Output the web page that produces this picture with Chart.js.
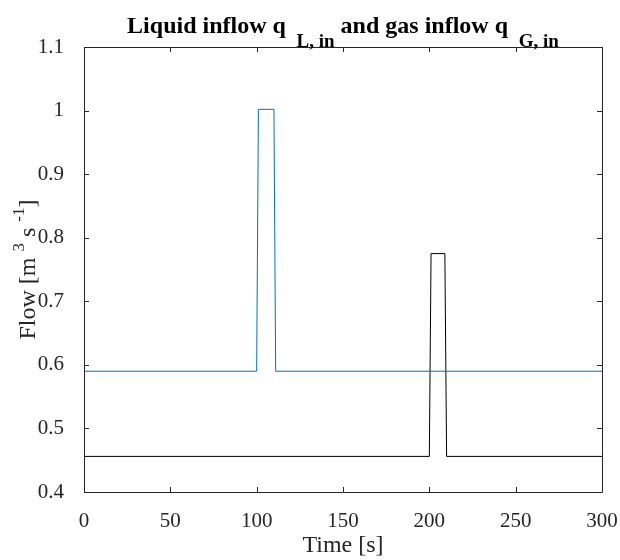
<!DOCTYPE html>
<html lang="en">
<head>
    <meta charset="UTF-8">
    <title>Liquid and gas inflow</title>
    <script src="https://cdn.jsdelivr.net/npm/chart.js"></script>
    <style>
        body { margin: 0; background: #fff; }
        canvas { display: block; }
    </style>
</head>
<body>
    <canvas id="myChart" width="620" height="560"></canvas>
    <script>
        // step profiles (breakpoints only)
        const liquidTime = [0, 100, 101, 110, 111, 300];
        const liquidFlow = [0.59, 0.59, 1.002, 1.002, 0.59, 0.59];
        const gasTime = [0, 200, 201, 209, 210, 300];
        const gasFlow = [0.456, 0.456, 0.775, 0.775, 0.456, 0.456];

        const xTicks = [0, 50, 100, 150, 200, 250, 300];
        const yTicks = [0.4, 0.5, 0.6, 0.7, 0.8, 0.9, 1, 1.1];

        const FONT = '"Liberation Serif", "Times New Roman", serif';
        const AXIS = '#262626';

        function toPoints(xs, ys) {
            return xs.map((x, i) => ({ x: x, y: ys[i] }));
        }

        // text with sub/superscripts: s = 0 normal, 1 sub, -1 super
        function richText(ctx, parts, x, y, size, small, weight) {
            let total = 0;
            parts.forEach(p => {
                ctx.font = weight + ' ' + (p.s ? small : size) + 'px ' + FONT;
                p.w = ctx.measureText(p.t).width;
                total += p.w;
            });
            let cx = x - total / 2;
            ctx.textAlign = 'left';
            ctx.textBaseline = 'alphabetic';
            parts.forEach(p => {
                ctx.font = weight + ' ' + (p.s ? small : size) + 'px ' + FONT;
                let dy = 0;
                if (p.s === 1) dy = size * 0.6;
                if (p.s === -1) dy = -size * 0.45;
                ctx.fillText(p.t, cx, y + dy);
                cx += p.w;
            });
        }

        const frame = {
            id: 'frame',
            afterDraw(chart) {
                const ctx = chart.ctx;
                const a = chart.chartArea;
                const xs = chart.scales.x, ys = chart.scales.y;
                const tl = 5;
                ctx.save();
                ctx.strokeStyle = AXIS;
                ctx.lineWidth = 1;
                ctx.beginPath();
                ctx.rect(Math.round(a.left) + 0.5, Math.round(a.top) + 0.5,
                    Math.round(a.right - a.left), Math.round(a.bottom - a.top));
                xTicks.forEach(v => {
                    const px = Math.round(xs.getPixelForValue(v)) + 0.5;
                    ctx.moveTo(px, a.bottom); ctx.lineTo(px, a.bottom - tl);
                    ctx.moveTo(px, a.top); ctx.lineTo(px, a.top + tl);
                });
                yTicks.forEach(v => {
                    const py = Math.round(ys.getPixelForValue(v)) + 0.5;
                    ctx.moveTo(a.left, py); ctx.lineTo(a.left + tl, py);
                    ctx.moveTo(a.right, py); ctx.lineTo(a.right - tl, py);
                });
                ctx.stroke();

                // title
                ctx.fillStyle = '#000';
                richText(ctx, [
                    { t: 'Liquid inflow q ', s: 0 },
                    { t: ' L, in', s: 1 },
                    { t: ' and gas inflow q ', s: 0 },
                    { t: ' G, in', s: 1 }
                ], (a.left + a.right) / 2, 33, 24, 19, 'bold');

                // x axis title
                ctx.fillStyle = AXIS;
                richText(ctx, [{ t: 'Time [s]', s: 0 }], (a.left + a.right) / 2, 552, 24, 18, 'normal');

                // y axis title
                ctx.save();
                ctx.translate(35, (a.top + a.bottom) / 2);
                ctx.rotate(-Math.PI / 2);
                richText(ctx, [
                    { t: 'Flow [m ', s: 0 },
                    { t: '3', s: -1 },
                    { t: ' s ', s: 0 },
                    { t: '-1', s: -1 },
                    { t: ']', s: 0 }
                ], 0, 0, 24, 17, 'normal');
                ctx.restore();
                ctx.restore();
            }
        };

        const ctx = document.getElementById('myChart').getContext('2d');
        const myChart = new Chart(ctx, {
            type: 'scatter',
            data: {
                datasets: [
                    {
                        label: 'q L,in',
                        data: toPoints(liquidTime, liquidFlow),
                        showLine: true,
                        borderColor: '#0072BD',
                        borderWidth: 1,
                        pointRadius: 0,
                        tension: 0
                    },
                    {
                        label: 'q G,in',
                        data: toPoints(gasTime, gasFlow),
                        showLine: true,
                        borderColor: '#000000',
                        borderWidth: 1,
                        pointRadius: 0,
                        tension: 0
                    }
                ]
            },
            options: {
                responsive: false,
                animation: false,
                devicePixelRatio: 1,
                layout: { padding: { left: 0, top: 47, right: 18, bottom: 0 } },
                plugins: {
                    legend: { display: false },
                    tooltip: { enabled: false }
                },
                scales: {
                    x: {
                        type: 'linear',
                        min: 0,
                        max: 300,
                        grid: { display: false },
                        border: { display: false },
                        afterBuildTicks: s => { s.ticks = xTicks.map(v => ({ value: v })); },
                        afterFit: s => { s.height = 68; s.paddingLeft = 0; s.paddingRight = 0; },
                        ticks: {
                            autoSkip: false,
                            maxRotation: 0,
                            padding: 9,
                            color: AXIS,
                            font: { family: FONT, size: 21 },
                            callback: v => String(v)
                        }
                    },
                    y: {
                        type: 'linear',
                        min: 0.4,
                        max: 1.1,
                        grid: { display: false },
                        border: { display: false },
                        afterBuildTicks: s => { s.ticks = yTicks.map(v => ({ value: v })); },
                        afterFit: s => { s.width = 84; s.paddingTop = 0; s.paddingBottom = 0; },
                        ticks: {
                            autoSkip: false,
                            padding: 12,
                            color: AXIS,
                            font: { family: FONT, size: 21 },
                            callback: v => String(+v.toFixed(1))
                        }
                    }
                }
            },
            plugins: [frame]
        });
    </script>
</body>
</html>
